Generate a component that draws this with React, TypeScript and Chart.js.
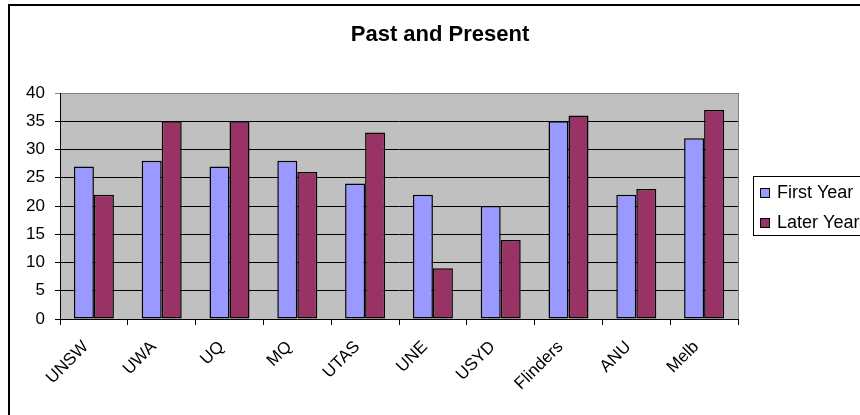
import { useEffect, useRef } from "react";
import { Chart, registerables } from "chart.js";

Chart.register(...registerables);

const chartTitle = "Past and Present";
const categories = ["UNSW", "UWA", "UQ", "MQ", "UTAS", "UNE", "USYD", "Flinders", "ANU", "Melb"];
const firstYear = [27, 28, 27, 28, 24, 22, 20, 35, 22, 32];
const laterYear = [22, 35, 35, 26, 33, 9, 14, 36, 23, 37];
const seriesNames = ["First Year", "Later Year"];
const seriesColors = ["#9999FF", "#993366"];
const yMin = 0;
const yMax = 40;
const yStep = 5;

const FONT = "'Liberation Sans', Arial, sans-serif";

const decorPlugin = {
  id: "decor",
  beforeDraw(chart: any) {
    const { ctx, chartArea } = chart;
    ctx.save();
    ctx.fillStyle = "#C0C0C0";
    ctx.fillRect(chartArea.left, chartArea.top, chartArea.right - chartArea.left, chartArea.bottom - chartArea.top);
    ctx.restore();
  },
  afterDraw(chart: any) {
    const { ctx, chartArea } = chart;
    ctx.save();
    // plot area right border
    ctx.strokeStyle = "#808080";
    ctx.lineWidth = 1;
    ctx.beginPath();
    ctx.moveTo(Math.round(chartArea.right) + 0.5, chartArea.top);
    ctx.lineTo(Math.round(chartArea.right) + 0.5, chartArea.bottom);
    ctx.stroke();
    // outer border
    ctx.strokeStyle = "#000";
    ctx.lineWidth = 2;
    ctx.beginPath();
    ctx.moveTo(9, 420);
    ctx.lineTo(9, 5);
    ctx.lineTo(870, 5);
    ctx.stroke();
    // title
    ctx.fillStyle = "#000";
    ctx.font = `bold 22px ${FONT}`;
    ctx.textAlign = "center";
    ctx.textBaseline = "middle";
    ctx.fillText(chartTitle, 440, 35);
    // legend
    const lx = 753, ly = 176, lw = 130, lh = 59;
    ctx.lineWidth = 1;
    ctx.strokeStyle = "#000";
    ctx.fillStyle = "#fff";
    ctx.fillRect(lx + 0.5, ly + 0.5, lw, lh);
    ctx.strokeRect(lx + 0.5, ly + 0.5, lw, lh);
    ctx.font = `18px ${FONT}`;
    ctx.textAlign = "left";
    chart.data.datasets.forEach((ds: any, i: number) => {
      const y = 188 + i * 30;
      ctx.fillStyle = ds.backgroundColor;
      ctx.fillRect(760.5, y + 0.5, 9, 9);
      ctx.strokeRect(760.5, y + 0.5, 9, 9);
      ctx.fillStyle = "#000";
      ctx.fillText(ds.label, 777, y + 5);
    });
    ctx.restore();
  },
};

export default function App() {
  const ref = useRef<HTMLCanvasElement | null>(null);
  useEffect(() => {
    if (!ref.current) return;
    const chart = new Chart(ref.current, {
      type: "bar",
      data: {
        labels: categories,
        datasets: [
          { label: seriesNames[0], data: firstYear, backgroundColor: seriesColors[0] },
          { label: seriesNames[1], data: laterYear, backgroundColor: seriesColors[1] },
        ],
      },
      options: {
        responsive: false,
        animation: false,
        devicePixelRatio: 1,
        layout: { padding: { left: 0, right: 122, top: 93, bottom: 0 } },
        datasets: {
          bar: {
            categoryPercentage: 0.59,
            barPercentage: 1,
            borderColor: "#000",
            borderWidth: 1.5,
            borderSkipped: false,
          },
        },
        plugins: {
          legend: { display: false },
          title: { display: false },
          tooltip: { enabled: false },
        },
        scales: {
          x: {
            offset: true,
            grid: { offset: true, drawOnChartArea: false, drawTicks: true, tickLength: 6, color: "#000" },
            border: { display: true, color: "#000" },
            ticks: {
              autoSkip: false,
              minRotation: 45,
              maxRotation: 45,
              labelOffset: -8,
              padding: 12,
              color: "#000",
              font: { family: FONT, size: 17 },
            },
            afterFit(scale: any) {
              scale.height = 96;
            },
          },
          y: {
            min: yMin,
            max: yMax,
            ticks: { stepSize: yStep, color: "#000", padding: 10, font: { family: FONT, size: 17 } },
            grid: {
              color: (c: any) => (c.tick && c.tick.value === yMax ? "#808080" : "#000"),
              tickLength: 5,
              drawTicks: true,
            },
            border: { display: true, color: "#000" },
            afterFit(scale: any) {
              scale.width = 60;
            },
          },
        },
      },
      plugins: [decorPlugin],
    });
    return () => chart.destroy();
  }, []);
  return (
    <div style={{ position: "fixed", left: 0, top: 0, width: 860, height: 415, overflow: "hidden", background: "#fff" }}>
      <canvas ref={ref} width={860} height={415} style={{ display: "block" }} />
    </div>
  );
}
